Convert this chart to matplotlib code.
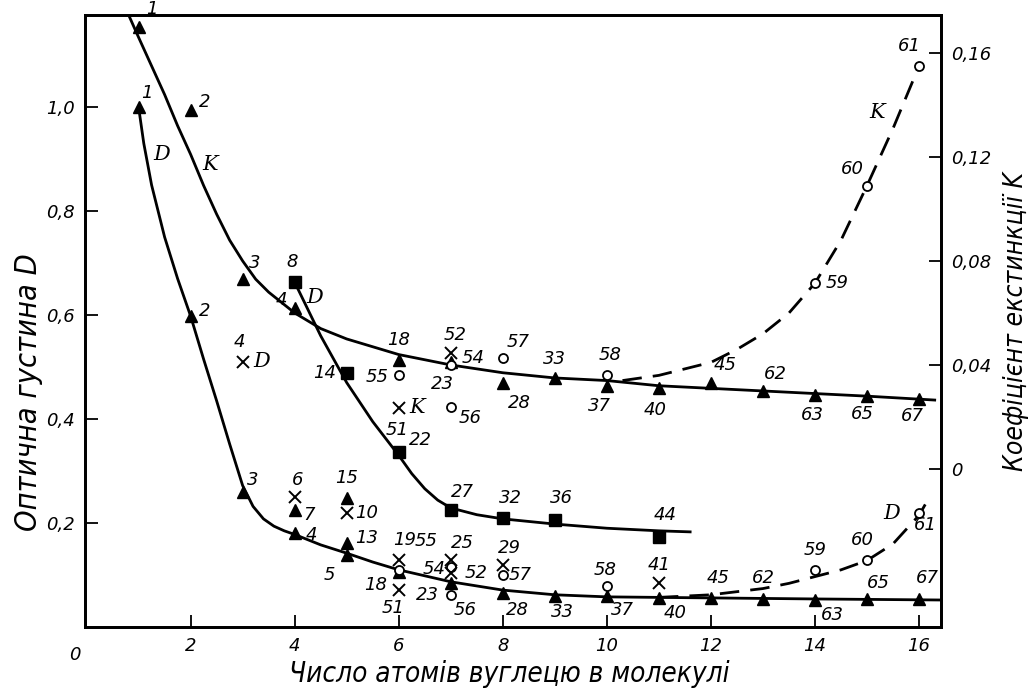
import matplotlib.pyplot as plt
import numpy as np

plt.rcParams['font.family'] = ['DejaVu Sans']
plt.rcParams['font.style'] = 'italic'

# ---- data ----
# K (extinction coefficient, right axis), filled triangles
k_tri_x = [1, 2, 3, 4, 6, 7, 8, 9, 10, 11, 12, 13, 14, 15, 16]
k_tri_val = [0.170, 0.138, 0.073, 0.062, 0.042, 0.041, 0.033, 0.035, 0.032,
             0.031, 0.033, 0.030, 0.0285, 0.028, 0.027]
k_tri_lab = ['1', '2', '3', '4', '18', '23', '28', '33', '37', '40', '45',
             '62', '63', '65', '67']
k_tri_off = [(13, 18), (14, 8), (12, 16), (-13, 8), (0, 20), (-8, -22),
             (17, -20), (0, 19), (-7, -20), (-4, -22), (14, 18), (12, 17),
             (-3, -20), (-5, -18), (-7, -17)]

# K, open circles
k_circ_x = [6, 7, 8, 7, 10, 14, 15, 16]
k_circ_val = [0.036, 0.040, 0.0427, 0.0238, 0.036, 0.0715, 0.109, 0.155]
k_circ_lab = ['55', '54', '57', '56', '58', '59', '60', '61']
k_circ_off = [(-22, -2), (22, 7), (15, 16), (19, -11), (3, 20), (22, 0),
              (-15, 17), (-10, 20)]

# K, crosses
k_x_x = [7, 6]
k_x_val = [0.0446, 0.0235]
k_x_lab = ['52', '51']
k_x_off = [(4, 18), (-2, -22)]

# D (optical density, left axis), squares
d_sq_x = [4, 5, 6, 7, 8, 9, 11]
d_sq_val = [0.663, 0.488, 0.337, 0.225, 0.210, 0.206, 0.173]
d_sq_lab = ['8', '14', '22', '27', '32', '36', '44']
d_sq_off = [(-3, 20), (-22, 0), (22, 12), (12, 18), (8, 20), (7, 22), (6, 22)]

# D, filled triangles
d_tri_x = [1, 2, 3, 4, 4, 5, 5, 5, 6, 7, 8, 9, 10, 11, 12, 13, 14, 15, 16]
d_tri_val = [1.0, 0.598, 0.260, 0.181, 0.225, 0.248, 0.162, 0.138, 0.106,
             0.085, 0.065, 0.060, 0.060, 0.056, 0.056, 0.054, 0.052, 0.054,
             0.053]
d_tri_lab = ['1', '2', '3', '4', '7', '15', '13', '5', '18', '23', '28', '33',
             '37', '40', '45', '62', '63', '65', '67']
d_tri_off = [(8, 14), (14, 5), (10, 12), (17, -2), (14, -5), (0, 20), (20, 5),
             (-17, -20), (-23, -13), (-23, -12), (15, -17), (8, -16),
             (16, -14), (16, -15), (7, 20), (0, 21), (17, -15), (11, 16),
             (8, 21)]

# D, open circles
d_circ_x = [6, 7, 7, 8, 10, 14, 15, 16]
d_circ_val = [0.110, 0.115, 0.062, 0.100, 0.079, 0.110, 0.129, 0.219]
d_circ_lab = ['55', '54', '56', '57', '58', '59', '60', '61']
d_circ_off = [(27, 29), (-17, -2), (14, -15), (17, 0), (-2, 16), (0, 20),
              (-5, 20), (6, -12)]

# D, crosses
d_x_x = [3, 4, 5, 6, 6, 7, 7, 8, 11]
d_x_val = [0.510, 0.250, 0.219, 0.129, 0.071, 0.129, 0.104, 0.119, 0.085]
d_x_lab = ['4', '6', '10', '19', '51', '25', '52', '29', '41']
d_x_off = [(-3, 20), (3, 17), (20, 0), (6, 20), (-6, -18), (12, 17), (25, 0),
           (7, 17), (0, 18)]

# drawn curves
k_curve_x = [0.8, 1.0, 1.25, 1.5, 1.75, 2.0, 2.25, 2.5, 2.75, 3.0, 3.25, 3.5,
             3.75, 4.0, 4.5, 5, 5.5, 6, 7, 8, 9, 10, 11, 12, 13, 14, 15, 16.3]
k_curve_val = [0.175, 0.166, 0.155, 0.144, 0.132, 0.121, 0.109, 0.098, 0.088,
               0.080, 0.073, 0.068, 0.064, 0.060, 0.054, 0.050, 0.047, 0.044,
               0.040, 0.037, 0.035, 0.034, 0.032, 0.031, 0.030, 0.029, 0.028,
               0.0265]
k_dash_x = [10.3, 11, 12, 12.5, 13, 13.5, 14, 14.5, 15, 15.5, 16]
k_dash_val = [0.034, 0.036, 0.041, 0.046, 0.052, 0.060, 0.0715, 0.088, 0.109,
              0.131, 0.155]
d_curve_x = [1.0, 1.1, 1.25, 1.5, 1.75, 2.0, 2.25, 2.5, 2.75, 3.0, 3.2, 3.4,
             3.6, 3.8, 4, 4.5, 5, 5.5, 6, 7, 8, 9, 10, 12, 14, 16.4]
d_curve_val = [1.0, 0.93, 0.85, 0.75, 0.67, 0.598, 0.515, 0.435, 0.352, 0.272,
               0.232, 0.208, 0.194, 0.185, 0.178, 0.158, 0.142, 0.125, 0.110,
               0.087, 0.071, 0.062, 0.058, 0.056, 0.054, 0.052]
d_sq_curve_x = [4, 4.5, 5, 5.5, 6, 6.25, 6.5, 6.75, 7, 7.5, 8, 9, 10, 11, 11.6]
d_sq_curve_val = [0.663, 0.56, 0.47, 0.395, 0.33, 0.295, 0.266, 0.244, 0.229,
                  0.216, 0.208, 0.198, 0.19, 0.185, 0.183]
d_dash_x = [11, 12, 13, 13.5, 14, 14.5, 15, 15.5, 16, 16.2]
d_dash_val = [0.057, 0.062, 0.074, 0.084, 0.097, 0.110, 0.128, 0.160, 0.215,
              0.250]

d_ticks = [0.2, 0.4, 0.6, 0.8, 1.0]
d_tick_labels = ['0,2', '0,4', '0,6', '0,8', '1,0']
k_ticks = [0, 0.04, 0.08, 0.12, 0.16]
k_tick_labels = ['0', '0,04', '0,08', '0,12', '0,16']
x_ticks = [2, 4, 6, 8, 10, 12, 14, 16]

# ---- figure ----
fig = plt.figure(figsize=(10.34, 6.95), dpi=100)
ax = fig.add_axes([0.0822, 0.0978, 0.8278, 0.8806])
ax2 = ax.twinx()

d_lim = (0, 1.177)
k_zero_d = 0.304  # D level where K = 0
ax.set_xlim(-0.03, 16.42)
ax.set_ylim(*d_lim)
ax2.set_ylim((d_lim[0] - k_zero_d) / 5, (d_lim[1] - k_zero_d) / 5)

lw = 2.0
ax2.plot(k_curve_x, k_curve_val, color='black', lw=lw)
ax2.plot(k_dash_x, k_dash_val, color='black', lw=lw, dashes=(7, 4))
ax.plot(d_curve_x, d_curve_val, color='black', lw=lw)
ax.plot(d_sq_curve_x, d_sq_curve_val, color='black', lw=lw)
ax.plot(d_dash_x, d_dash_val, color='black', lw=lw, dashes=(7, 4))

tri = dict(marker='^', color='black', ms=9, ls='none', zorder=4)
sq = dict(marker='s', color='black', ms=9, ls='none', zorder=4)
circ = dict(marker='o', mfc='white', mec='black', mew=1.3, ms=6.5, ls='none',
            zorder=5)
cross = dict(marker='x', color='black', mew=1.4, ms=8, ls='none', zorder=5)

ax2.plot(k_tri_x, k_tri_val, **tri)
ax2.plot(k_circ_x, k_circ_val, **circ)
ax2.plot(k_x_x, k_x_val, **cross)
ax.plot(d_sq_x, d_sq_val, **sq)
ax.plot(d_tri_x, d_tri_val, **tri)
ax.plot(d_circ_x, d_circ_val, **circ)
ax.plot(d_x_x, d_x_val, **cross)


def label_points(axis, xs, vals, labels, offsets):
    for x, v, s, (dx, dy) in zip(xs, vals, labels, offsets):
        axis.annotate(s, (x, v), xytext=(dx, dy), textcoords='offset pixels',
                      ha='center', va='center', fontsize=13,
                      family='DejaVu Sans', style='italic', zorder=6)


label_points(ax2, k_tri_x, k_tri_val, k_tri_lab, k_tri_off)
label_points(ax2, k_circ_x, k_circ_val, k_circ_lab, k_circ_off)
label_points(ax2, k_x_x, k_x_val, k_x_lab, k_x_off)
label_points(ax, d_sq_x, d_sq_val, d_sq_lab, d_sq_off)
label_points(ax, d_tri_x, d_tri_val, d_tri_lab, d_tri_off)
label_points(ax, d_circ_x, d_circ_val, d_circ_lab, d_circ_off)
label_points(ax, d_x_x, d_x_val, d_x_lab, d_x_off)

# curve letters
lt = dict(fontsize=15, family='DejaVu Serif', style='italic', ha='center',
          va='center')
ax.text(1.45, 0.908, 'D', **lt)
ax2.text(2.37, 0.117, 'K', **lt)
ax.text(4.38, 0.633, 'D', **lt)
ax2.text(15.19, 0.137, 'K', **lt)
ax.text(15.48, 0.219, 'D', **lt)
ax.annotate('D', (3, 0.510), xytext=(19, 0), textcoords='offset pixels', **lt)
ax2.annotate('K', (6, 0.0235), xytext=(18, 0), textcoords='offset pixels', **lt)

# axes styling
for a in (ax, ax2):
    for sp in a.spines.values():
        sp.set_linewidth(2)
ax.set_xticks(x_ticks)
ax.set_xticklabels([str(t) for t in x_ticks])
ax.set_yticks(d_ticks)
ax.set_yticklabels(d_tick_labels)
ax2.set_yticks(k_ticks)
ax2.set_yticklabels(k_tick_labels)
ax.tick_params(direction='in', length=9, width=1.3, labelsize=13, pad=7)
ax2.tick_params(direction='in', length=9, width=1.3, labelsize=13, pad=7)
ax.text(-0.012, -0.045, '0', transform=ax.transAxes, ha='center',
        va='center', fontsize=13)

lab = dict(fontstretch='condensed', fontweight='light', va='center',
           ha='center')
ax.set_xlabel('Число атомів вуглецю в молекулі', fontsize=20, **lab)
ax.set_ylabel('Оптична густина D', fontsize=22, **lab)
ax2.set_ylabel('Коефіцієнт екстинкції K', fontsize=19, **lab)
ax.xaxis.set_label_coords(0.496, -0.076)
ax.yaxis.set_label_coords(-0.066, 0.384)
ax2.yaxis.set_label_coords(1.088, 0.50)

fig.savefig('out.png', dpi=100)
